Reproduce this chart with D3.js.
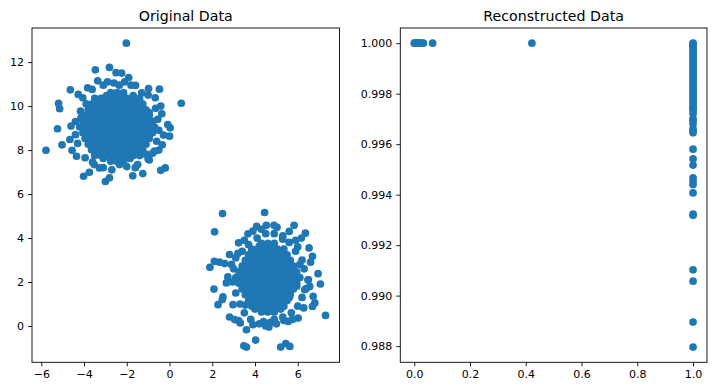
<!DOCTYPE html>
<html><head><meta charset="utf-8">
<script src="https://cdn.jsdelivr.net/npm/d3@7"></script>
<style>body{margin:0;background:#fff} text{font-family:"DejaVu Sans",sans-serif}</style>
</head><body><svg id="c" width="715" height="392"></svg>
<script>
// ---------- Original Data ----------
// dense core of blob 1, stored by rows: [y, [x values]]
const blob1CoreRows = [
  [7.49, [-2.75,-2.45,-2.15]],
  [7.75, [-3.5,-3.2,-2.9,-2.6,-2.3,-2.0,-1.7,-1.4]],
  [8.01, [-3.65,-3.35,-3.05,-2.75,-2.45,-2.15,-1.85,-1.55,-1.25]],
  [8.27, [-3.8,-3.5,-3.2,-2.9,-2.6,-2.3,-2.0,-1.7,-1.4,-1.1]],
  [8.53, [-3.95,-3.65,-3.35,-3.05,-2.75,-2.45,-2.15,-1.85,-1.55,-1.25,-0.95]],
  [8.79, [-4.05,-3.8,-3.5,-3.2,-2.9,-2.6,-2.3,-2.0,-1.7,-1.4,-1.1,-0.8]],
  [9.05, [-4.2,-3.95,-3.65,-3.35,-3.05,-2.75,-2.45,-2.15,-1.85,-1.55,-1.25,-0.95,-0.7]],
  [9.31, [-4.05,-3.8,-3.5,-3.2,-2.9,-2.6,-2.3,-2.0,-1.7,-1.4,-1.1,-0.8]],
  [9.57, [-3.95,-3.65,-3.35,-3.05,-2.75,-2.45,-2.15,-1.85,-1.55,-1.25,-0.95]],
  [9.83, [-3.8,-3.5,-3.2,-2.9,-2.6,-2.3,-2.0,-1.7,-1.4,-1.1]],
  [10.09,[-3.65,-3.35,-3.05,-2.75,-2.45,-2.15,-1.85,-1.55,-1.25]],
  [10.35,[-3.5,-3.2,-2.9,-2.6,-2.3,-2.0,-1.7,-1.4]],
  [10.61,[-2.75,-2.45,-2.15]]
];
// extra points between the core rows of blob 1
const blob1CoreFill = [
  [-3.1,7.62],[-2.45,7.62],[-1.85,7.62],[-3.35,8.14],[-2.6,8.14],[-1.95,8.14],[-1.4,8.14],
  [-3.6,8.66],[-2.9,8.66],[-2.25,8.66],[-1.55,8.66],[-0.95,8.66],[-3.85,9.18],[-3.1,9.18],[-2.45,9.18],
  [-1.75,9.18],[-1.05,9.18],[-3.6,9.7],[-2.85,9.7],[-2.2,9.7],[-1.5,9.7],[-0.95,9.7],
  [-3.3,10.22],[-2.6,10.22],[-1.95,10.22],[-1.4,10.22],[-2.95,10.48],[-2.3,10.48],[-1.7,10.48]
];
const blob1Edge = [
  [-2.02,12.86],[-3.47,11.65],[-2.81,11.76],[-2.5,11.52],[-2.24,11.5],[-1.91,11.3],[-3.36,11.15],
  [-2.9,11.1],[-2.6,11.05],[-2.1,11.1],[-1.8,10.95],[-2.35,10.95],[-3.1,10.95],[-1.59,10.94],
  [-0.98,10.8],[-0.47,10.77],[0.55,10.13],[-1.3,10.6],[-1.0,10.5],[-0.67,10.38],[-0.41,10.0],[-0.36,9.65],[-0.65,9.9],
  [-4.64,10.74],[-3.83,10.83],[-3.62,10.76],[-4.27,10.53],[-4.06,10.38],[-3.9,10.1],
  [-5.19,10.12],[-5.14,9.88],[-4.16,9.77],[-4.14,9.47],[-4.4,9.3],
  [-5.24,8.97],[-4.61,9.09],[-4.66,8.48],[-4.4,8.7],[-4.3,8.3],
  [-5.78,7.99],[-5.03,8.24],[-4.56,7.99],[-4.35,7.72],[-3.95,7.65],[-3.6,7.45],
  [-4.02,6.81],[-3.75,6.99],[-3.0,6.57],[-2.81,6.74],[-3.28,7.19],[-3.52,7.34],[-3.1,7.2],[-2.7,7.1],
  [-2.34,7.34],[-2.0,7.25],[-1.6,7.2],[-1.72,6.83],[-1.25,6.93],[-1.49,7.34],
  [-0.41,7.08],[-0.2,7.19],[-1.0,7.6],[-0.95,7.55],[-1.09,7.8],[-0.7,7.95],[-0.8,7.85],[-0.5,8.0],
  [-0.34,8.24],[-0.6,8.4],[-0.28,8.68],[0.0,8.63],[0.03,9.01],[-0.08,9.16],[-0.5,8.9],[-0.55,9.4]
];
// dense core of blob 2, stored by rows: [y, [x values]]
const blob2CoreRows = [
  [0.64, [4.3,4.6,4.9]],
  [0.90, [3.85,4.15,4.45,4.75,5.05,5.35]],
  [1.16, [3.7,4.0,4.3,4.6,4.9,5.2,5.5]],
  [1.42, [3.55,3.85,4.15,4.45,4.75,5.05,5.35,5.65]],
  [1.68, [3.4,3.7,4.0,4.3,4.6,4.9,5.2,5.5,5.8]],
  [1.94, [3.25,3.55,3.85,4.15,4.45,4.75,5.05,5.35,5.65,5.95]],
  [2.20, [3.1,3.4,3.7,4.0,4.3,4.6,4.9,5.2,5.5,5.8,6.1]],
  [2.46, [3.25,3.55,3.85,4.15,4.45,4.75,5.05,5.35,5.65,5.95]],
  [2.72, [3.4,3.7,4.0,4.3,4.6,4.9,5.2,5.5,5.8]],
  [2.98, [3.55,3.85,4.15,4.45,4.75,5.05,5.35,5.65]],
  [3.24, [3.7,4.0,4.3,4.6,4.9,5.2,5.5]],
  [3.50, [3.85,4.15,4.45,4.75,5.05,5.35]],
  [3.76, [4.3,4.6,4.9]]
];
// extra points between the core rows of blob 2
const blob2CoreFill = [
  [4.0,0.77],[4.6,0.77],[5.2,0.77],[3.85,1.29],[4.45,1.29],[5.05,1.29],[5.6,1.29],
  [3.55,1.81],[4.2,1.81],[4.8,1.81],[5.45,1.81],[5.95,1.81],[3.3,2.33],[3.95,2.33],[4.6,2.33],
  [5.25,2.33],[5.9,2.33],[3.55,2.85],[4.2,2.85],[4.85,2.85],[5.5,2.85],[3.9,3.37],[4.55,3.37],
  [5.15,3.37],[4.2,3.63],[4.75,3.63]
];
const blob2Edge = [
  [2.48,5.11],[4.45,5.16],[2.11,4.28],[4.08,4.53],[4.53,4.58],[4.89,4.58],[5.03,4.49],[5.83,4.58],[6.36,4.22],
  [6.17,4.0],[6.53,3.55],[6.69,3.17],[6.95,2.38],[7.06,1.91],[7.3,0.48],
  [6.72,1.35],[6.8,1.05],[6.69,0.89],[6.28,0.82],[6.02,0.36],[5.55,0.21],[5.2,-0.96],[5.44,-0.8],[5.63,-0.93],
  [4.03,-0.64],[3.48,-0.9],[3.6,-0.96],[3.6,-0.17],[2.81,0.41],[2.27,0.97],[2.08,1.68],[1.89,2.67],
  [2.1,2.94],[2.34,2.9],[2.58,2.84],[2.81,3.25],[3.23,3.78],[3.67,4.19],[3.9,4.31],[4.72,0.17],
  [3.23,0.24],[3.31,0.14],[2.5,1.32],[2.47,1.2],[2.73,2.23],[2.66,1.96],[2.97,0.97],
  [3.0,2.6],[2.95,2.0],[3.1,1.5],[3.3,1.0],[3.5,0.6],[3.8,0.3],[4.2,0.1],[4.5,0.0],[4.9,0.3],
  [5.3,0.4],[5.7,0.6],[6.0,0.9],[6.2,1.3],[6.4,1.7],[6.5,2.1],[6.3,2.6],[6.2,3.0],[5.9,3.4],
  [5.6,3.8],[5.3,4.1],[4.9,4.2],[4.5,4.2],[4.1,4.0],[3.7,3.7],[3.4,3.4],[3.1,3.1],[6.6,2.9],
  [5.9,3.9],[3.05,0.29],[3.9,0.06],[4.4,0.2],[4.65,-0.05],[5.0,0.1],[5.35,0.25],[5.75,0.3],
  [6.48,2.1],[6.56,1.8],[6.33,1.65],[4.3,4.4],[5.6,4.3],[5.3,3.95],[6.0,3.6],[6.1,2.8],
  [3.5,3.9],[2.9,2.8],[3.2,3.3],[3.55,0.95]
];
const leftXTicks = [-6,-4,-2,0,2,4,6];
const leftYTicks = [0,2,4,6,8,10,12];

// ---------- Reconstructed Data ----------
const reconTopX = [0, 0.003, 0.006, 0.01, 0.014, 0.018, 0.022, 0.027, 0.033, 0.066, 0.422]; // y = 1.000
const reconOneY = [1.0,0.99998,0.99995,0.9999,0.99985,0.9998,0.9997,0.9996,0.9995,0.9994,0.9993,0.9992,
  0.9991,0.999,0.9989,0.9988,0.9987,0.9986,0.9985,0.9984,0.9983,0.9982,0.9981,0.998,0.9979,0.9978,
  0.9977,0.9976,0.9975,0.9974,0.99735,0.9972,0.997,0.99695,0.9968,0.9966,0.99655,0.99645,
  0.9958,0.99542,0.99517,0.99467,0.99454,0.9944,0.99407,0.99323,0.99318,0.99102,0.99057,0.98895,0.98796]; // x = 1
const rightXTicks = [0,0.2,0.4,0.6,0.8,1.0];
const rightYTicks = [0.988,0.990,0.992,0.994,0.996,0.998,1.000];

// ---------- build point lists ----------
const flattenRows = rows => rows.flatMap(([y, xs]) => xs.map(x => [x, y]));
const originalPts = [...flattenRows(blob1CoreRows), ...blob1CoreFill, ...blob1Edge,
                     ...flattenRows(blob2CoreRows), ...blob2CoreFill, ...blob2Edge];
const reconPts = [...reconTopX.map(x => [x, 1.0]), ...reconOneY.map(y => [1, y])];

const svg = d3.select("#c");
const COLOR = "#1f77b4";
function pad(ext){ const d = ext[1]-ext[0]; return [ext[0]-0.05*d, ext[1]+0.05*d]; }

function panel(o){
  const x = d3.scaleLinear().domain(pad(d3.extent(o.pts, d=>d[0]))).range([o.left, o.right]);
  const y = d3.scaleLinear().domain(pad(d3.extent(o.pts, d=>d[1]))).range([o.bottom, o.top]);
  const g = svg.append("g");
  g.append("g").selectAll("circle").data(o.pts).join("circle")
    .attr("cx", d=>x(d[0])).attr("cy", d=>y(d[1])).attr("r", 3.85).attr("fill", COLOR);
  const xa = g.append("g").attr("transform", `translate(0,${o.bottom})`)
    .call(d3.axisBottom(x).tickValues(o.xTicks).tickFormat(o.xFmt).tickSizeInner(4).tickSizeOuter(0).tickPadding(4));
  const ya = g.append("g").attr("transform", `translate(${o.left},0)`)
    .call(d3.axisLeft(y).tickValues(o.yTicks).tickFormat(o.yFmt).tickSizeInner(4).tickSizeOuter(0).tickPadding(4));
  [xa, ya].forEach(a => {
    a.select(".domain").remove();
    a.selectAll("line").attr("stroke", "#000").attr("stroke-width", 0.9);
    a.selectAll("text").attr("fill", "#000").style("font-size", "11px").style("font-family", "DejaVu Sans, sans-serif");
  });
  g.append("rect").attr("x", o.left).attr("y", o.top).attr("width", o.right-o.left).attr("height", o.bottom-o.top)
    .attr("fill", "none").attr("stroke", "#000").attr("stroke-width", 0.9);
  g.append("text").attr("x", (o.left+o.right)/2).attr("y", o.top-7).attr("text-anchor", "middle")
    .style("font-size", "14.2px").attr("fill", "#000").text(o.title);
}

panel({left:32, right:339.5, top:28, bottom:362.3, pts:originalPts,
  xTicks:leftXTicks, yTicks:leftYTicks, xFmt:d3.format("d"), yFmt:d3.format("d"), title:"Original Data"});
panel({left:400.3, right:707, top:28, bottom:362.3, pts:reconPts,
  xTicks:rightXTicks, yTicks:rightYTicks, xFmt:d3.format(".1f"), yFmt:d3.format(".3f"), title:"Reconstructed Data"});
</script></body></html>
